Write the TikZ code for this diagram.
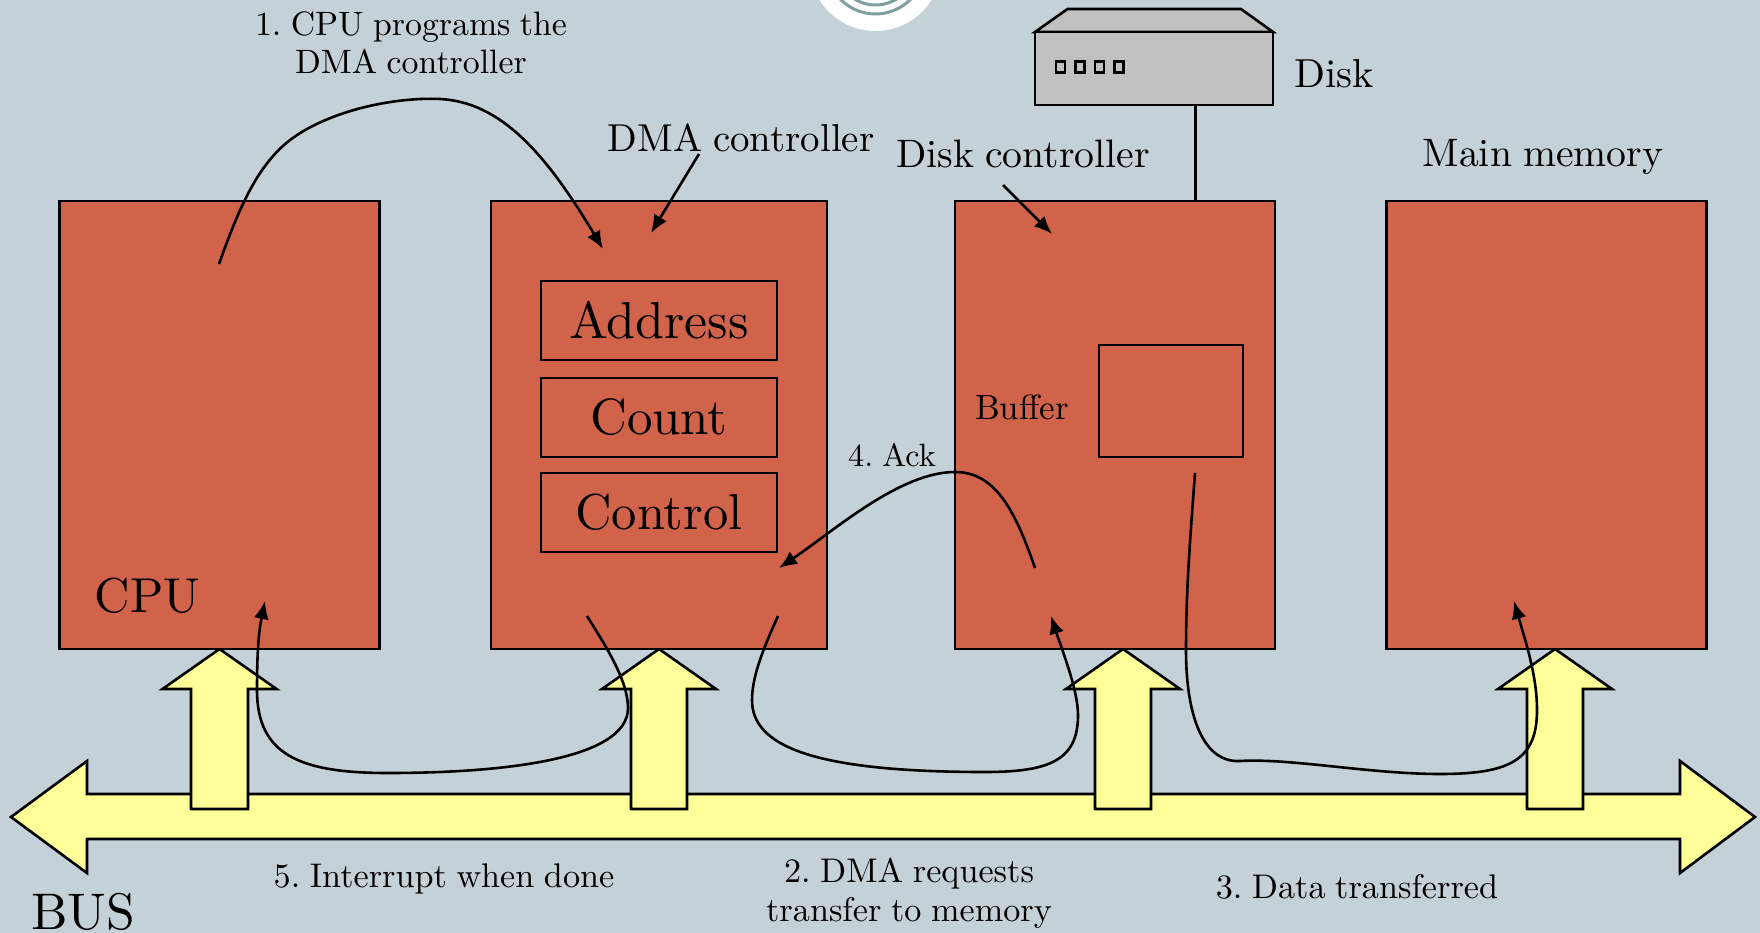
\documentclass[tikz,border=0pt]{standalone}
\usetikzlibrary{arrows.meta}
\definecolor{bgc}{HTML}{C5D1D8}
\definecolor{boxc}{HTML}{D1634A}
\definecolor{yel}{HTML}{FFFF99}
\definecolor{ringc}{HTML}{7F9F9F}
\definecolor{diskc}{HTML}{C0C0C0}
\tikzset{
  unit/.style={draw=black,line width=2.6pt,fill=boxc,rectangle,inner sep=0pt},
  regbox/.style={draw=black,line width=2.6pt,rectangle,inner sep=0pt,minimum width=236pt,minimum height=79pt},
  busarrow/.style={draw=black,line width=2.6pt,fill=yel},
  flow/.style={draw=black,line width=2.6pt,-{Latex[length=18pt,width=15pt]}},
  plain/.style={draw=black,line width=2.6pt},
  txt/.style={inner sep=0pt,align=center,text=black,execute at begin node={\frenchspacing\spaceskip=0.28em\relax}},
  tsmall/.style={txt,scale=3.38},
  tmid/.style={txt,scale=3.97},
  tbig/.style={txt,scale=5.15}
}
\newcommand{\upbus}[3]{% centre tip x, wing half, shaft half
  \draw[busarrow] (#1,649) -- (#1+#2,689) -- (#1+#3,689) -- (#1+#3,809) -- (#1-#3,809) -- (#1-#3,689) -- (#1-#2,689) -- cycle;
}
\begin{document}
\begin{tikzpicture}[x=1pt,y=-1pt]
\useasboundingbox (0,0) rectangle (1760,933);
\clip (0,0) rectangle (1760,933);
\fill[bgc] (0,0) rectangle (1760,933);
% logo
\fill[white] (875.5,-35) circle (66);
\draw[ringc,line width=3pt] (875.5,-35) circle (49);
\draw[ringc,line width=3pt] (875.5,-35) circle (40);
% bus
\draw[busarrow] (11,817) -- (87,761) -- (87,794) -- (1680,794) -- (1680,761) -- (1755,817) -- (1680,873) -- (1680,839) -- (87,839) -- (87,873) -- cycle;
\upbus{219.5}{57}{28.5}
\upbus{659}{57}{28}
\upbus{1123}{57}{28}
\upbus{1555}{57}{28}
% units
\node[unit,minimum width=320pt,minimum height=448pt] (cpu) at (219.5,425) {};
\node[unit,minimum width=336pt,minimum height=448pt] (dma) at (659,425) {};
\node[unit,minimum width=320pt,minimum height=448pt] (dc) at (1115,425) {};
\node[unit,minimum width=320pt,minimum height=448pt] (mem) at (1546.5,425) {};
\node[regbox] (addr) at (659,320.5) {\scalebox{5.2}{Address}};
\node[regbox] (count) at (659,417.5) {\raisebox{-1pt}{\scalebox{5.1}{Count}}};
\node[regbox] (ctrl) at (659,512.5) {\raisebox{-1pt}{\scalebox{5.05}{Control}}};
\node[plain,rectangle,inner sep=0pt,minimum width=144pt,minimum height=112pt] (buf) at (1171,401) {};
% disk
\draw[plain,fill=diskc] (1035,32) -- (1067.5,9) -- (1241,9) -- (1273,32) -- cycle;
\node[plain,fill=diskc,rectangle,inner sep=0pt,minimum width=238pt,minimum height=73pt] (disk) at (1154,68.5) {};
\foreach \xx in {1060.5,1080,1099.5,1119}
  \draw[black,line width=2.2pt] (\xx-4.5,61.5) rectangle (\xx+4.5,72.5);
\coordinate (dcin) at (1195.6,150);
\draw[plain] (disk.south -| dcin) -- (dc.north -| dcin);
% labels
\node[tsmall] (t1) at (411,42.5) {1. CPU programs the\\[-0.7pt]DMA controller};
\node[tmid,scale=0.98] (tdma) at (741,138) {DMA controller};
\node[tmid] (tdc) at (1023,154) {Disk controller};
\node[tmid] (tmem) at (1543,157) {Main memory};
\node[tmid,scale=1.02] (tdisk) at (1334,74) {Disk};
\node[txt,scale=4.9] (tcpu) at (147.5,596) {CPU};
\node[txt,scale=3.5] (tbuf) at (1022,407) {Buffer};
\node[txt,scale=3.22] (tack) at (892,455) {4. Ack};
\node[txt,scale=3.42] (t5) at (444,879) {5. Interrupt when done};
\node[txt,scale=3.42] (t2) at (909,893) {2. DMA requests\\[-0.7pt]transfer to memory};
\node[txt,scale=3.42] (t3) at (1357,887) {3. Data transferred};
\node[tbig] (tbus) at (83,912) {BUS};
% connector ends
\coordinate (a1) at (219,264);
\coordinate (b1) at (603,249);
\coordinate (a2) at (699,154);
\coordinate (b2) at (651,233);
\coordinate (a3) at (1003,185);
\coordinate (b3) at (1052,234);
\coordinate (a4) at (1035,568);
\coordinate (b4) at (779,568);
\coordinate (a5) at (587,616);
\coordinate (b5) at (265,601);
\coordinate (a6) at (778,616);
\coordinate (b6) at (1051,616);
\coordinate (a7) at (1195,473);
\coordinate (b7) at (1514,601);
\draw[flow] (a1) .. controls (240,205) and (258,165) .. (290,140) .. controls (330,110) and (395,97) .. (440,99) .. controls (500,102) and (545,152) .. (b1);
\draw[flow] (a2) -- (b2);
\draw[flow] (a3) -- (b3);
\draw[flow] (a4) .. controls (1015,510) and (995,472) .. (955,472) .. controls (900,472) and (835,530) .. (b4);
\draw[flow] (a5) .. controls (605,645) and (628,680) .. (628,708) .. controls (628,760) and (500,773) .. (388,773) .. controls (300,773) and (257,755) .. (257,690) .. controls (257,660) and (258,635) .. (b5);
\draw[flow] (a6) .. controls (765,645) and (752,675) .. (752,700) .. controls (752,745) and (810,772) .. (985,772) .. controls (1050,772) and (1078,760) .. (1078,715) .. controls (1078,690) and (1062,650) .. (b6);
\draw[flow] (a7) .. controls (1190,540) and (1186,590) .. (1186,650) .. controls (1186,720) and (1205,763) .. (1240,761) .. controls (1290,758) and (1370,774) .. (1440,774) .. controls (1510,774) and (1537,760) .. (1537,710) .. controls (1537,675) and (1525,640) .. (b7);
\end{tikzpicture}
\end{document}
